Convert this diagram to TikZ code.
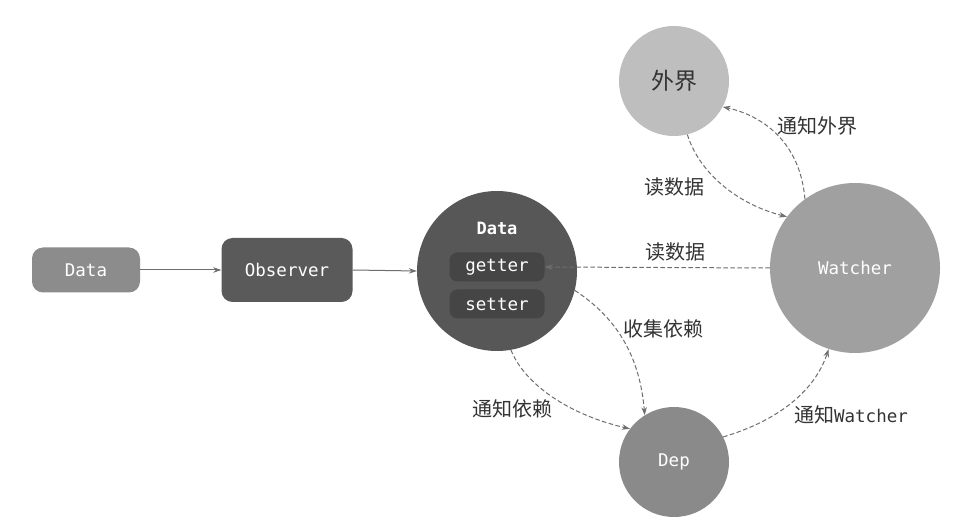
\documentclass[tikz,border=0pt]{standalone}
\usepackage{fontspec}
\setmonofont{DejaVu Sans Mono}
\newfontfamily\cjk{Noto Sans CJK SC}
\usetikzlibrary{arrows.meta}
\definecolor{cDataBox}{HTML}{8C8C8C}
\definecolor{cObs}{HTML}{5A5A5A}
\definecolor{cDataC}{HTML}{575757}
\definecolor{cGS}{HTML}{454545}
\definecolor{cWatch}{HTML}{A0A0A0}
\definecolor{cOut}{HTML}{BEBEBE}
\definecolor{cDep}{HTML}{8A8A8A}
\definecolor{cLine}{HTML}{6E6E6E}
\definecolor{cLab}{HTML}{333333}
\begin{document}
\begin{tikzpicture}[x=1pt,y=-1pt,
  rbox/.style={rectangle,rounded corners=11pt,inner sep=0pt,text=white,font=\ttfamily\fontsize{17.5}{19}\selectfont},
  circ/.style={circle,inner sep=0pt,text=white,font=\ttfamily\fontsize{17.5}{19}\selectfont},
  gsbox/.style={rectangle,rounded corners=8pt,fill=cGS,inner sep=0pt,minimum width=95pt,minimum height=29pt,text=white,font=\ttfamily\fontsize{17.5}{19}\selectfont},
  lab/.style={text=cLab,font=\cjk\fontsize{20}{22}\selectfont,inner sep=0pt},
  solidarrow/.style={draw=cLine,line width=1pt,-{Stealth[length=8pt,width=5.5pt]}},
  dasharrow/.style={draw=cLine,line width=1pt,dash pattern=on 4.5pt off 2.5pt,-{Stealth[length=8pt,width=5.5pt]}}
]
\useasboundingbox (0,0) rectangle (958,526);
\fill[white] (0,0) rectangle (958,526);

\node[rbox,fill=cDataBox,minimum width=108pt,minimum height=45pt] (dbox) at (86,270) {Data};
\node[rbox,fill=cObs,minimum width=131pt,minimum height=64pt] (obs) at (287,270) {Observer};
\node[circ,fill=cDataC,minimum size=160pt] (dc) at (497,271) {};
\node[text=white,font=\ttfamily\bfseries\fontsize{17}{19}\selectfont,inner sep=0pt] (dlab) at (497,228) {Data};
\node[gsbox] (getter) at (497,267) {getter};
\node[gsbox] (setter) at (497,304) {setter};
\node[circ,fill=cWatch,minimum size=170pt] (watch) at (855,268) {Watcher};
\node[circ,fill=cOut,minimum size=110pt,text=cLab,font=\cjk\fontsize{23}{25}\selectfont] (outer) at (674,81) {外界};
\node[circ,fill=cDep,minimum size=110pt,font=\ttfamily\fontsize{17.5}{19}\selectfont] (dep) at (674,462) {Dep};

\draw[solidarrow] (dbox.east) -- (obs.west);
\draw[solidarrow] (obs.east) -- (dc.west);
\draw[dasharrow] (watch.west) -- (getter.east);
\draw[dasharrow] (watch.126) .. controls (800,140) and (760,115) .. (outer.-28);
\draw[dasharrow] (outer.-76) .. controls (700,175) and (740,205) .. (watch.143);
\draw[dasharrow] (dc.-80) .. controls (525,385) and (570,415) .. (dep.143);
\draw[dasharrow] (dc.-14) .. controls (620,320) and (640,360) .. (dep.122);
\draw[dasharrow] (dep.27) .. controls (780,420) and (815,390) .. (watch.-108);

\node[lab] (l1) at (817,126) {通知外界};
\node[lab] (l2) at (674,187) {读数据};
\node[lab] (l3) at (675,252) {读数据};
\node[lab] (l4) at (663,329) {收集依赖};
\node[lab] (l5) at (512,409) {通知依赖};
\node[lab] (l6) at (851,415) {通知{\ttfamily\fontsize{17.5}{19}\selectfont Watcher}};
\end{tikzpicture}
\end{document}
